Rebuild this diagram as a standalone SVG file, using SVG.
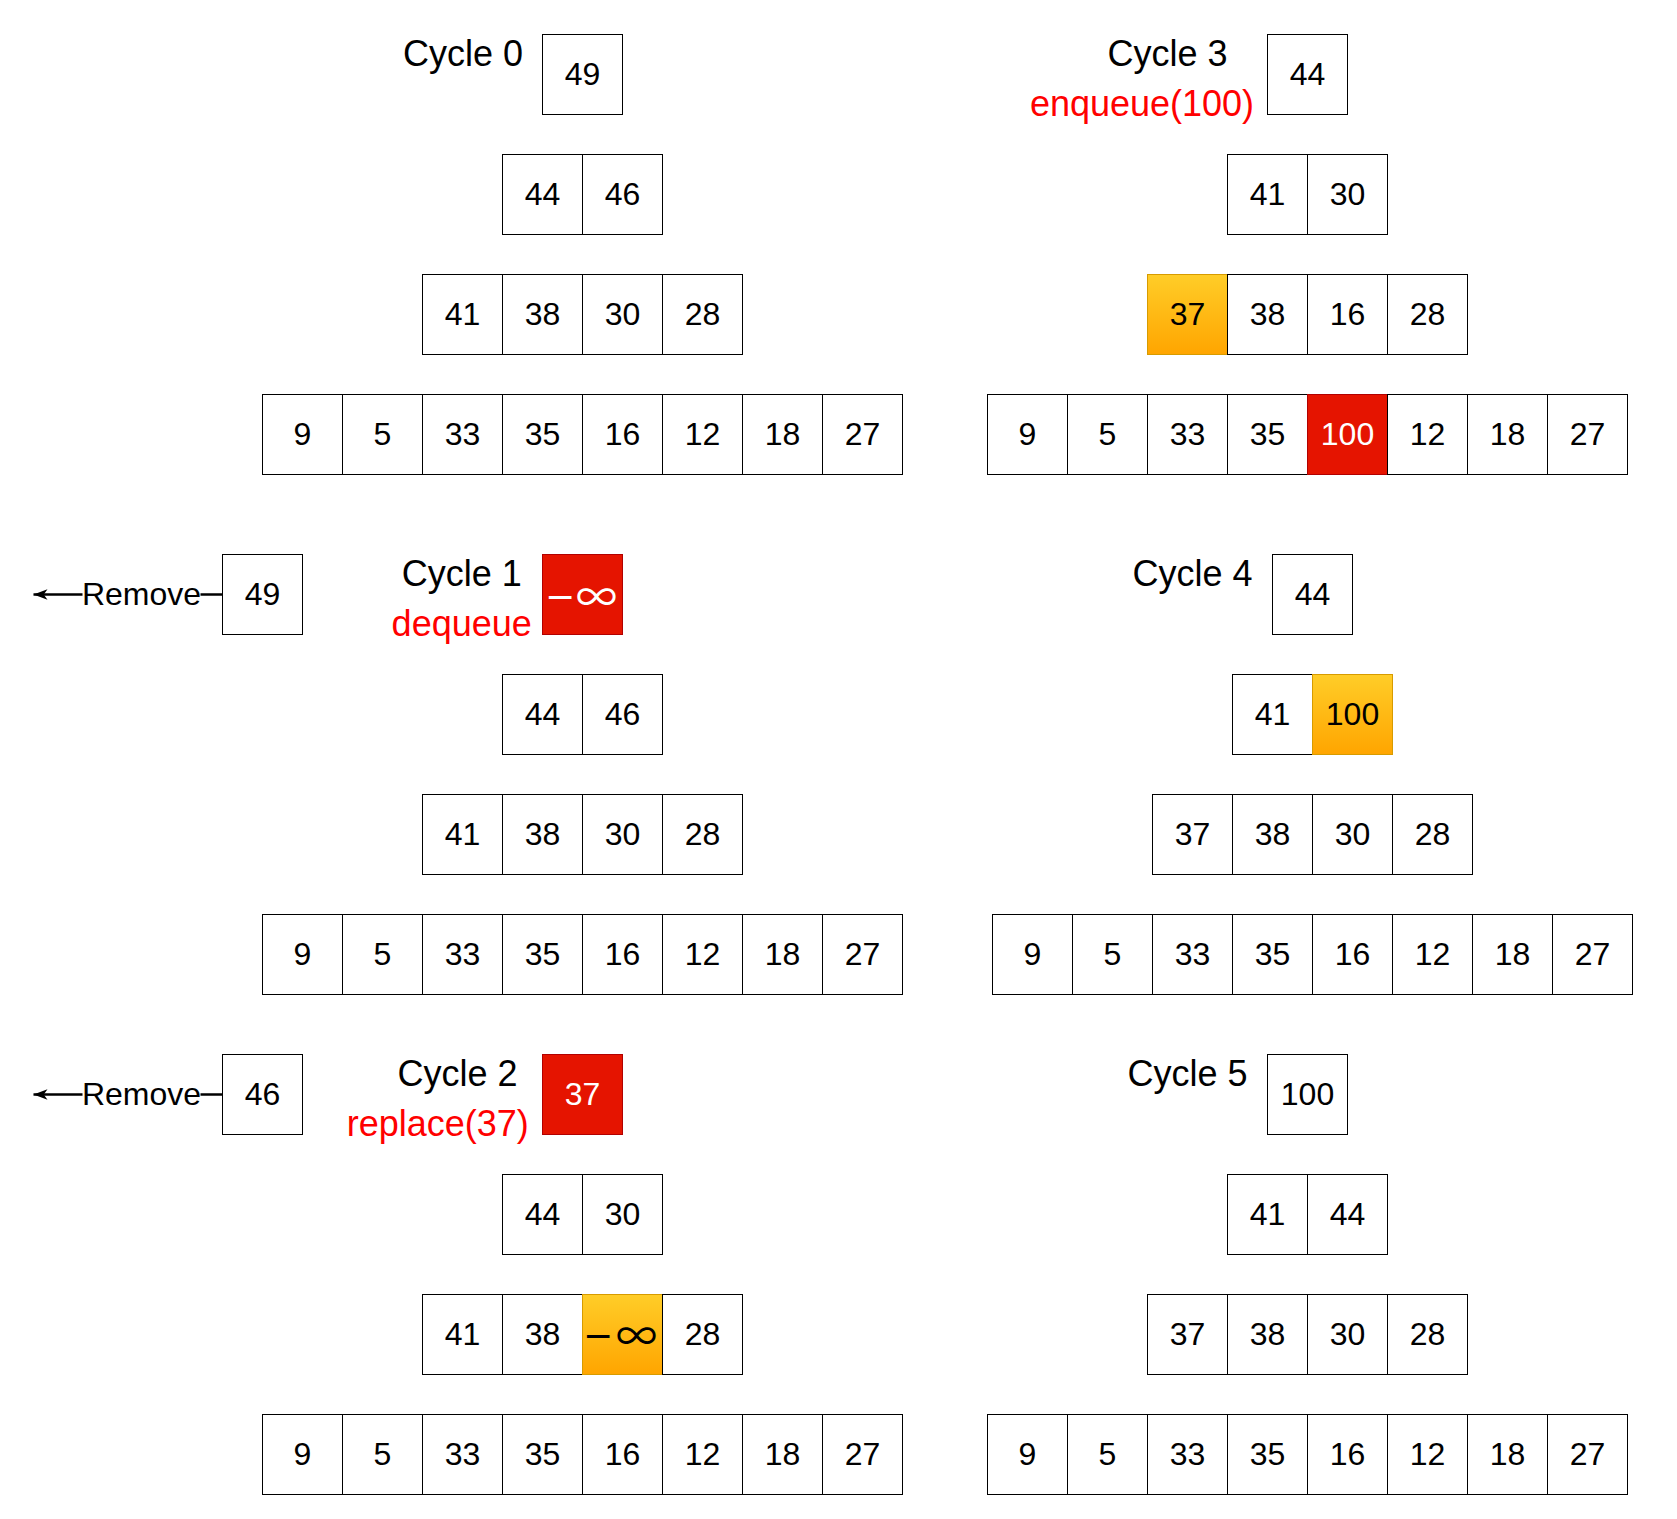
<svg xmlns="http://www.w3.org/2000/svg" width="1677" height="1519" viewBox="0 0 1677 1519">
<style>
.b{fill:#fff;stroke:#000;stroke-width:1}
.r{fill:#e51400;stroke:#b20000;stroke-width:1}
.o{fill:url(#og);stroke:#d79b00;stroke-width:1}
text{font-family:"Liberation Sans",Arial,sans-serif}
.t{font-size:32px;text-anchor:middle;fill:#000}
.w{fill:#fff}
.lbl{font-size:36px;text-anchor:middle;fill:#000}
.op{font-size:36px;text-anchor:middle;fill:#ff0000}
.mn{font-family:"DejaVu Sans",sans-serif;font-size:36px;text-anchor:middle}
.inf{font-family:"Noto Sans CJK SC",sans-serif;font-size:41px;text-anchor:middle}
.edge{fill:none;stroke:#000;stroke-width:2.5}
.elbl{font-size:32px;text-anchor:middle;fill:#000}
</style>
<defs>
<linearGradient id="og" x1="0" y1="0" x2="0" y2="1">
<stop offset="0" stop-color="#ffcd28"/>
<stop offset="1" stop-color="#ffa500"/>
</linearGradient>
<marker id="arr" markerUnits="userSpaceOnUse" markerWidth="16" markerHeight="12" viewBox="0 0 16 12" refX="14" refY="6" orient="auto">
<path d="M0,0.8 L14,6 L0,11.2 L3.8,6 Z" fill="#000"/>
</marker>
</defs>
<rect x="0" y="0" width="1677" height="1519" fill="#fff"/>

<g id="connectors">
<path class="edge" d="M222.5,594.5 L33.5,594.5" marker-end="url(#arr)"/>
<rect x="82.5" y="577" width="118" height="34" fill="#fff"/>
<text class="elbl" x="141.5" y="605">Remove</text>
<path class="edge" d="M222.5,1094.5 L33.5,1094.5" marker-end="url(#arr)"/>
<rect x="82.5" y="1077" width="118" height="34" fill="#fff"/>
<text class="elbl" x="141.5" y="1105">Remove</text>
</g>

<!-- Cycle 0 -->
<g id="cycle0">
<text id="c0-label" class="lbl" x="463" y="66">Cycle 0</text>
<g id="c0-root"><rect class="b" x="542.5" y="34.5" width="80" height="80"/><text class="t" x="582.5" y="85">49</text></g>
<g id="c0-l1-0"><rect class="b" x="502.5" y="154.5" width="80" height="80"/><text class="t" x="542.5" y="205">44</text></g>
<g id="c0-l1-1"><rect class="b" x="582.5" y="154.5" width="80" height="80"/><text class="t" x="622.5" y="205">46</text></g>
<g id="c0-l2-0"><rect class="b" x="422.5" y="274.5" width="80" height="80"/><text class="t" x="462.5" y="325">41</text></g>
<g id="c0-l2-1"><rect class="b" x="502.5" y="274.5" width="80" height="80"/><text class="t" x="542.5" y="325">38</text></g>
<g id="c0-l2-2"><rect class="b" x="582.5" y="274.5" width="80" height="80"/><text class="t" x="622.5" y="325">30</text></g>
<g id="c0-l2-3"><rect class="b" x="662.5" y="274.5" width="80" height="80"/><text class="t" x="702.5" y="325">28</text></g>
<g id="c0-l3-0"><rect class="b" x="262.5" y="394.5" width="80" height="80"/><text class="t" x="302.5" y="445">9</text></g>
<g id="c0-l3-1"><rect class="b" x="342.5" y="394.5" width="80" height="80"/><text class="t" x="382.5" y="445">5</text></g>
<g id="c0-l3-2"><rect class="b" x="422.5" y="394.5" width="80" height="80"/><text class="t" x="462.5" y="445">33</text></g>
<g id="c0-l3-3"><rect class="b" x="502.5" y="394.5" width="80" height="80"/><text class="t" x="542.5" y="445">35</text></g>
<g id="c0-l3-4"><rect class="b" x="582.5" y="394.5" width="80" height="80"/><text class="t" x="622.5" y="445">16</text></g>
<g id="c0-l3-5"><rect class="b" x="662.5" y="394.5" width="80" height="80"/><text class="t" x="702.5" y="445">12</text></g>
<g id="c0-l3-6"><rect class="b" x="742.5" y="394.5" width="80" height="80"/><text class="t" x="782.5" y="445">18</text></g>
<g id="c0-l3-7"><rect class="b" x="822.5" y="394.5" width="80" height="80"/><text class="t" x="862.5" y="445">27</text></g>
</g>

<!-- Cycle 1 -->
<g id="cycle1" transform="translate(0,520)">
<text id="c1-label" class="lbl" x="461.7" y="66">Cycle 1</text>
<text id="c1-op" class="op" x="461.7" y="116">dequeue</text>
<g id="c1-removed"><rect class="b" x="222.5" y="34.5" width="80" height="80"/><text class="t" x="262.5" y="85">49</text></g>
<g id="c1-root"><rect class="r" x="542.5" y="34.5" width="80" height="80"/><text class="mn w" x="560" y="89">−</text><text class="inf w" x="596.5" y="92">∞</text></g>
<g id="c1-l1-0"><rect class="b" x="502.5" y="154.5" width="80" height="80"/><text class="t" x="542.5" y="205">44</text></g>
<g id="c1-l1-1"><rect class="b" x="582.5" y="154.5" width="80" height="80"/><text class="t" x="622.5" y="205">46</text></g>
<g id="c1-l2-0"><rect class="b" x="422.5" y="274.5" width="80" height="80"/><text class="t" x="462.5" y="325">41</text></g>
<g id="c1-l2-1"><rect class="b" x="502.5" y="274.5" width="80" height="80"/><text class="t" x="542.5" y="325">38</text></g>
<g id="c1-l2-2"><rect class="b" x="582.5" y="274.5" width="80" height="80"/><text class="t" x="622.5" y="325">30</text></g>
<g id="c1-l2-3"><rect class="b" x="662.5" y="274.5" width="80" height="80"/><text class="t" x="702.5" y="325">28</text></g>
<g id="c1-l3-0"><rect class="b" x="262.5" y="394.5" width="80" height="80"/><text class="t" x="302.5" y="445">9</text></g>
<g id="c1-l3-1"><rect class="b" x="342.5" y="394.5" width="80" height="80"/><text class="t" x="382.5" y="445">5</text></g>
<g id="c1-l3-2"><rect class="b" x="422.5" y="394.5" width="80" height="80"/><text class="t" x="462.5" y="445">33</text></g>
<g id="c1-l3-3"><rect class="b" x="502.5" y="394.5" width="80" height="80"/><text class="t" x="542.5" y="445">35</text></g>
<g id="c1-l3-4"><rect class="b" x="582.5" y="394.5" width="80" height="80"/><text class="t" x="622.5" y="445">16</text></g>
<g id="c1-l3-5"><rect class="b" x="662.5" y="394.5" width="80" height="80"/><text class="t" x="702.5" y="445">12</text></g>
<g id="c1-l3-6"><rect class="b" x="742.5" y="394.5" width="80" height="80"/><text class="t" x="782.5" y="445">18</text></g>
<g id="c1-l3-7"><rect class="b" x="822.5" y="394.5" width="80" height="80"/><text class="t" x="862.5" y="445">27</text></g>
</g>

<!-- Cycle 2 -->
<g id="cycle2" transform="translate(0,1020)">
<text id="c2-label" class="lbl" x="457.5" y="66">Cycle 2</text>
<text id="c2-op" class="op" x="437.7" y="116">replace(37)</text>
<g id="c2-removed"><rect class="b" x="222.5" y="34.5" width="80" height="80"/><text class="t" x="262.5" y="85">46</text></g>
<g id="c2-root"><rect class="r" x="542.5" y="34.5" width="80" height="80"/><text class="t w" x="582.5" y="85">37</text></g>
<g id="c2-l1-0"><rect class="b" x="502.5" y="154.5" width="80" height="80"/><text class="t" x="542.5" y="205">44</text></g>
<g id="c2-l1-1"><rect class="b" x="582.5" y="154.5" width="80" height="80"/><text class="t" x="622.5" y="205">30</text></g>
<g id="c2-l2-0"><rect class="b" x="422.5" y="274.5" width="80" height="80"/><text class="t" x="462.5" y="325">41</text></g>
<g id="c2-l2-1"><rect class="b" x="502.5" y="274.5" width="80" height="80"/><text class="t" x="542.5" y="325">38</text></g>
<g id="c2-l2-2"><rect class="o" x="582.5" y="274.5" width="80" height="80"/><text class="mn" x="598" y="328">−</text><text class="inf" x="636.5" y="331">∞</text></g>
<g id="c2-l2-3"><rect class="b" x="662.5" y="274.5" width="80" height="80"/><text class="t" x="702.5" y="325">28</text></g>
<g id="c2-l3-0"><rect class="b" x="262.5" y="394.5" width="80" height="80"/><text class="t" x="302.5" y="445">9</text></g>
<g id="c2-l3-1"><rect class="b" x="342.5" y="394.5" width="80" height="80"/><text class="t" x="382.5" y="445">5</text></g>
<g id="c2-l3-2"><rect class="b" x="422.5" y="394.5" width="80" height="80"/><text class="t" x="462.5" y="445">33</text></g>
<g id="c2-l3-3"><rect class="b" x="502.5" y="394.5" width="80" height="80"/><text class="t" x="542.5" y="445">35</text></g>
<g id="c2-l3-4"><rect class="b" x="582.5" y="394.5" width="80" height="80"/><text class="t" x="622.5" y="445">16</text></g>
<g id="c2-l3-5"><rect class="b" x="662.5" y="394.5" width="80" height="80"/><text class="t" x="702.5" y="445">12</text></g>
<g id="c2-l3-6"><rect class="b" x="742.5" y="394.5" width="80" height="80"/><text class="t" x="782.5" y="445">18</text></g>
<g id="c2-l3-7"><rect class="b" x="822.5" y="394.5" width="80" height="80"/><text class="t" x="862.5" y="445">27</text></g>
</g>

<!-- Cycle 3 -->
<g id="cycle3" transform="translate(725,0)">
<text id="c3-label" class="lbl" x="442.5" y="66">Cycle 3</text>
<text id="c3-op" class="op" x="417" y="116">enqueue(100)</text>
<g id="c3-root"><rect class="b" x="542.5" y="34.5" width="80" height="80"/><text class="t" x="582.5" y="85">44</text></g>
<g id="c3-l1-0"><rect class="b" x="502.5" y="154.5" width="80" height="80"/><text class="t" x="542.5" y="205">41</text></g>
<g id="c3-l1-1"><rect class="b" x="582.5" y="154.5" width="80" height="80"/><text class="t" x="622.5" y="205">30</text></g>
<g id="c3-l2-0"><rect class="o" x="422.5" y="274.5" width="80" height="80"/><text class="t" x="462.5" y="325">37</text></g>
<g id="c3-l2-1"><rect class="b" x="502.5" y="274.5" width="80" height="80"/><text class="t" x="542.5" y="325">38</text></g>
<g id="c3-l2-2"><rect class="b" x="582.5" y="274.5" width="80" height="80"/><text class="t" x="622.5" y="325">16</text></g>
<g id="c3-l2-3"><rect class="b" x="662.5" y="274.5" width="80" height="80"/><text class="t" x="702.5" y="325">28</text></g>
<g id="c3-l3-0"><rect class="b" x="262.5" y="394.5" width="80" height="80"/><text class="t" x="302.5" y="445">9</text></g>
<g id="c3-l3-1"><rect class="b" x="342.5" y="394.5" width="80" height="80"/><text class="t" x="382.5" y="445">5</text></g>
<g id="c3-l3-2"><rect class="b" x="422.5" y="394.5" width="80" height="80"/><text class="t" x="462.5" y="445">33</text></g>
<g id="c3-l3-3"><rect class="b" x="502.5" y="394.5" width="80" height="80"/><text class="t" x="542.5" y="445">35</text></g>
<g id="c3-l3-4"><rect class="r" x="582.5" y="394.5" width="80" height="80"/><text class="t w" x="622.5" y="445">100</text></g>
<g id="c3-l3-5"><rect class="b" x="662.5" y="394.5" width="80" height="80"/><text class="t" x="702.5" y="445">12</text></g>
<g id="c3-l3-6"><rect class="b" x="742.5" y="394.5" width="80" height="80"/><text class="t" x="782.5" y="445">18</text></g>
<g id="c3-l3-7"><rect class="b" x="822.5" y="394.5" width="80" height="80"/><text class="t" x="862.5" y="445">27</text></g>
</g>

<!-- Cycle 4 -->
<g id="cycle4" transform="translate(730,520)">
<text id="c4-label" class="lbl" x="462.5" y="66">Cycle 4</text>
<g id="c4-root"><rect class="b" x="542.5" y="34.5" width="80" height="80"/><text class="t" x="582.5" y="85">44</text></g>
<g id="c4-l1-0"><rect class="b" x="502.5" y="154.5" width="80" height="80"/><text class="t" x="542.5" y="205">41</text></g>
<g id="c4-l1-1"><rect class="o" x="582.5" y="154.5" width="80" height="80"/><text class="t" x="622.5" y="205">100</text></g>
<g id="c4-l2-0"><rect class="b" x="422.5" y="274.5" width="80" height="80"/><text class="t" x="462.5" y="325">37</text></g>
<g id="c4-l2-1"><rect class="b" x="502.5" y="274.5" width="80" height="80"/><text class="t" x="542.5" y="325">38</text></g>
<g id="c4-l2-2"><rect class="b" x="582.5" y="274.5" width="80" height="80"/><text class="t" x="622.5" y="325">30</text></g>
<g id="c4-l2-3"><rect class="b" x="662.5" y="274.5" width="80" height="80"/><text class="t" x="702.5" y="325">28</text></g>
<g id="c4-l3-0"><rect class="b" x="262.5" y="394.5" width="80" height="80"/><text class="t" x="302.5" y="445">9</text></g>
<g id="c4-l3-1"><rect class="b" x="342.5" y="394.5" width="80" height="80"/><text class="t" x="382.5" y="445">5</text></g>
<g id="c4-l3-2"><rect class="b" x="422.5" y="394.5" width="80" height="80"/><text class="t" x="462.5" y="445">33</text></g>
<g id="c4-l3-3"><rect class="b" x="502.5" y="394.5" width="80" height="80"/><text class="t" x="542.5" y="445">35</text></g>
<g id="c4-l3-4"><rect class="b" x="582.5" y="394.5" width="80" height="80"/><text class="t" x="622.5" y="445">16</text></g>
<g id="c4-l3-5"><rect class="b" x="662.5" y="394.5" width="80" height="80"/><text class="t" x="702.5" y="445">12</text></g>
<g id="c4-l3-6"><rect class="b" x="742.5" y="394.5" width="80" height="80"/><text class="t" x="782.5" y="445">18</text></g>
<g id="c4-l3-7"><rect class="b" x="822.5" y="394.5" width="80" height="80"/><text class="t" x="862.5" y="445">27</text></g>
</g>

<!-- Cycle 5 -->
<g id="cycle5" transform="translate(725,1020)">
<text id="c5-label" class="lbl" x="462.5" y="66">Cycle 5</text>
<g id="c5-root"><rect class="b" x="542.5" y="34.5" width="80" height="80"/><text class="t" x="582.5" y="85">100</text></g>
<g id="c5-l1-0"><rect class="b" x="502.5" y="154.5" width="80" height="80"/><text class="t" x="542.5" y="205">41</text></g>
<g id="c5-l1-1"><rect class="b" x="582.5" y="154.5" width="80" height="80"/><text class="t" x="622.5" y="205">44</text></g>
<g id="c5-l2-0"><rect class="b" x="422.5" y="274.5" width="80" height="80"/><text class="t" x="462.5" y="325">37</text></g>
<g id="c5-l2-1"><rect class="b" x="502.5" y="274.5" width="80" height="80"/><text class="t" x="542.5" y="325">38</text></g>
<g id="c5-l2-2"><rect class="b" x="582.5" y="274.5" width="80" height="80"/><text class="t" x="622.5" y="325">30</text></g>
<g id="c5-l2-3"><rect class="b" x="662.5" y="274.5" width="80" height="80"/><text class="t" x="702.5" y="325">28</text></g>
<g id="c5-l3-0"><rect class="b" x="262.5" y="394.5" width="80" height="80"/><text class="t" x="302.5" y="445">9</text></g>
<g id="c5-l3-1"><rect class="b" x="342.5" y="394.5" width="80" height="80"/><text class="t" x="382.5" y="445">5</text></g>
<g id="c5-l3-2"><rect class="b" x="422.5" y="394.5" width="80" height="80"/><text class="t" x="462.5" y="445">33</text></g>
<g id="c5-l3-3"><rect class="b" x="502.5" y="394.5" width="80" height="80"/><text class="t" x="542.5" y="445">35</text></g>
<g id="c5-l3-4"><rect class="b" x="582.5" y="394.5" width="80" height="80"/><text class="t" x="622.5" y="445">16</text></g>
<g id="c5-l3-5"><rect class="b" x="662.5" y="394.5" width="80" height="80"/><text class="t" x="702.5" y="445">12</text></g>
<g id="c5-l3-6"><rect class="b" x="742.5" y="394.5" width="80" height="80"/><text class="t" x="782.5" y="445">18</text></g>
<g id="c5-l3-7"><rect class="b" x="822.5" y="394.5" width="80" height="80"/><text class="t" x="862.5" y="445">27</text></g>
</g>
</svg>
